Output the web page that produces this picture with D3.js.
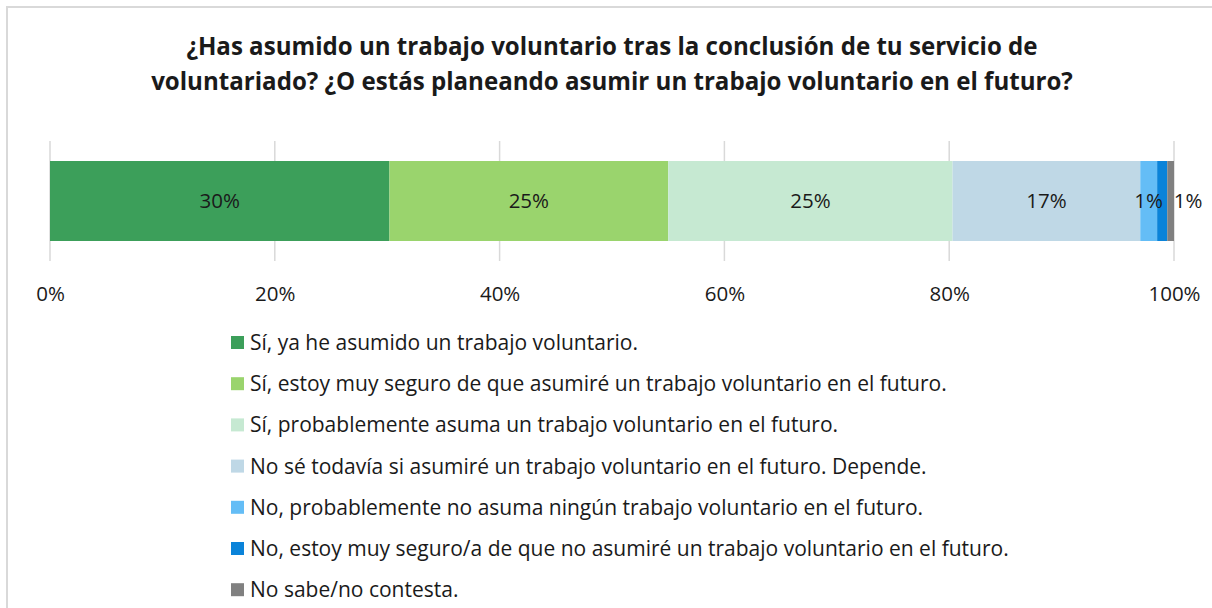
<!DOCTYPE html>
<html><head><meta charset="utf-8">
<script src="https://cdn.jsdelivr.net/npm/d3@7"></script>
<style>
html,body{margin:0;padding:0;background:#fff;}
svg text{font-family:"Open Sans",Lato,sans-serif;}
</style></head>
<body>
<svg id="chart" width="1212" height="608"></svg>
<script>
const titleLines = ["¿Has asumido un trabajo voluntario tras la conclusión de tu servicio de",
                    "voluntariado? ¿O estás planeando asumir un trabajo voluntario en el futuro?"];
const categories = [
  "Sí, ya he asumido un trabajo voluntario.",
  "Sí, estoy muy seguro de que asumiré un trabajo voluntario en el futuro.",
  "Sí, probablemente asuma un trabajo voluntario en el futuro.",
  "No sé todavía si asumiré un trabajo voluntario en el futuro. Depende.",
  "No, probablemente no asuma ningún trabajo voluntario en el futuro.",
  "No, estoy muy seguro/a de que no asumiré un trabajo voluntario en el futuro.",
  "No sabe/no contesta."
];
const values = [30.2, 24.8, 25.3, 16.7, 1.5, 0.9, 0.6];
const valueLabels = ["30%", "25%", "25%", "17%", "1%", "1%", ""];
const colors = ["#3C9F5A", "#9AD46D", "#C6E9D2", "#BFD8E6", "#64BDF6", "#0A83D9", "#808080"];
const tickValues = [0, 20, 40, 60, 80, 100];

const svg = d3.select("#chart");
svg.append("path").attr("d","M7,608 V7 H1212").attr("fill","none").attr("stroke","#D9D9D9").attr("stroke-width",2);

svg.append("g").selectAll("text").data(titleLines).join("text")
  .attr("x", 612).attr("y", (d,i)=>55 + i*35)
  .attr("text-anchor","middle").attr("font-weight","bold").attr("font-size",24.1).attr("fill","#1a1a1a")
  .text(d=>d);

const x = d3.scaleLinear().domain([0,100]).range([50,1174]);
const barTop = 161, barH = 80;

svg.append("g").selectAll("line").data(tickValues).join("line")
  .attr("x1",d=>x(d)).attr("x2",d=>x(d)).attr("y1",141).attr("y2",261)
  .attr("stroke","#D9D9D9").attr("stroke-width",1.5);

let cum = 0;
const segs = values.map((v,i)=>{ const s={start:cum,end:cum+v,i}; cum+=v; return s; });
svg.append("g").selectAll("rect").data(segs).join("rect")
  .attr("x",d=>x(d.start)).attr("y",barTop).attr("width",d=>x(d.end)-x(d.start)).attr("height",barH)
  .attr("fill",d=>colors[d.i]);

svg.append("g").selectAll("text").data(segs.filter(d=>valueLabels[d.i])).join("text")
  .attr("x",d=> d.i===5 ? x(100)+14 : x((d.start+d.end)/2))
  .attr("y",barTop+barH/2+7)
  .attr("text-anchor","middle").attr("font-size",20.5).attr("fill","#1a1a1a")
  .text(d=>valueLabels[d.i]);

const axis = d3.axisBottom(x).tickValues(tickValues).tickFormat(d=>d+"%").tickSize(0).tickPadding(0);
const ag = svg.append("g").attr("transform","translate(0,301)").call(axis);
ag.select(".domain").remove();
ag.selectAll("text").attr("font-size",20.5).attr("fill","#1a1a1a").attr("dy",0)
  .style("font-family","'Open Sans', Lato, sans-serif");

const lg = svg.append("g").selectAll("g").data(categories).join("g")
  .attr("transform",(d,i)=>`translate(231,${343 + i*41.2})`);
lg.append("rect").attr("x",0).attr("y",-7).attr("width",13).attr("height",13).attr("fill",(d,i)=>colors[i]);
lg.append("text").attr("x",19).attr("y",7).attr("font-size",21).attr("fill","#1a1a1a").text(d=>d);
</script>
</body></html>
